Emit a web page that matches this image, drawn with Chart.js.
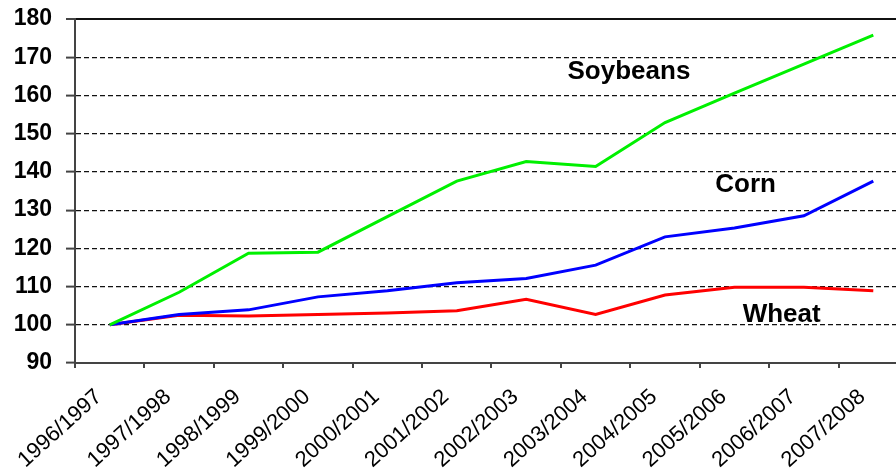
<!DOCTYPE html>
<html>
<head>
<meta charset="utf-8">
<script src="https://cdn.jsdelivr.net/npm/chart.js@4"></script>
<style>
    html, body { margin: 0; padding: 0; background: #fff; overflow: hidden; }
    #wrap { width: 896px; height: 474px; overflow: hidden; }
</style>
</head>
<body>
<div id="wrap">
    <canvas id="chart" width="930" height="474"></canvas>
</div>
<script>
var years = ['1996/1997', '1997/1998', '1998/1999', '1999/2000', '2000/2001', '2001/2002',
             '2002/2003', '2003/2004', '2004/2005', '2005/2006', '2006/2007', '2007/2008'];

var soybeans = [100, 108.5, 118.7, 119, 128.3, 137.6, 142.7, 141.4, 152.9, 160.6, 168.2, 175.8];
var corn     = [100, 102.7, 103.9, 107.3, 108.9, 111, 112.1, 115.6, 123, 125.3, 128.5, 137.6];
var wheat    = [100, 102.5, 102.3, 102.7, 103.1, 103.7, 106.7, 102.7, 107.8, 109.8, 109.8, 108.9];

var yTicks = [90, 100, 110, 120, 130, 140, 150, 160, 170, 180];

// where the series names sit (category index, value)
var seriesNames = ['Soybeans', 'Corn', 'Wheat'];
var nameAt = [[7.48, 166.1], [9.16, 136.6], [9.68, 102.6]];

var nameLabels = {
    id: 'nameLabels',
    afterDatasetsDraw: function (chart) {
        var ctx = chart.ctx;
        var x = chart.scales.x;
        var y = chart.scales.y;
        ctx.save();
        ctx.font = 'bold 26px "Liberation Sans", Arial, sans-serif';
        ctx.fillStyle = '#000';
        ctx.textAlign = 'center';
        ctx.textBaseline = 'middle';
        for (var i = 0; i < seriesNames.length; i++) {
            var px = x.getPixelForValue(nameAt[i][0]);
            var py = y.getPixelForValue(nameAt[i][1]);
            ctx.fillText(seriesNames[i], px, py);
        }
        ctx.restore();
    }
};

new Chart(document.getElementById('chart'), {
    type: 'line',
    data: {
        labels: years,
        datasets: [
            { label: 'Soybeans', data: soybeans, borderColor: '#00f000', borderWidth: 3 },
            { label: 'Corn', data: corn, borderColor: '#0000ff', borderWidth: 3 },
            { label: 'Wheat', data: wheat, borderColor: '#ff0000', borderWidth: 3 }
        ]
    },
    options: {
        responsive: false,
        animation: false,
        layout: { padding: { top: 19, right: 22, left: 0, bottom: 0 } },
        elements: { point: { radius: 0 }, line: { tension: 0 } },
        plugins: { legend: { display: false }, tooltip: { enabled: false } },
        scales: {
            x: {
                offset: true,
                afterFit: function (axis) { axis.height = 111; },
                grid: { display: true, offset: true, drawOnChartArea: false, tickLength: 5, color: '#444', lineWidth: 2 },
                border: { color: '#444', width: 2 },
                ticks: {
                    color: '#000',
                    font: { family: '"Liberation Sans", Arial, sans-serif', size: 22 },
                    minRotation: 42,
                    maxRotation: 42,
                    autoSkip: false,
                    padding: 16,
                    labelOffset: -11
                }
            },
            y: {
                min: 90,
                max: 180,
                afterFit: function (axis) {
                    axis.width = 75;
                    axis.paddingTop = 0;
                },
                afterBuildTicks: function (axis) {
                    axis.ticks = yTicks.map(function (v) { return { value: v }; });
                },
                grid: {
                    color: '#111',
                    lineWidth: function (c) { return c.tick && c.tick.value === 180 ? 2 : 1.2; },
                    tickLength: 9,
                    tickColor: '#444',
                    tickBorderDash: [],
                    tickWidth: 2
                },
                border: {
                    color: '#444',
                    width: 2,
                    dash: function (c) { return c.tick && c.tick.value === 180 ? [] : [5, 3]; }
                },
                ticks: {
                    color: '#000',
                    font: { family: '"Liberation Sans", Arial, sans-serif', size: 23, weight: 'bold' },
                    padding: 14
                }
            }
        }
    },
    plugins: [nameLabels]
});
</script>
</body>
</html>
